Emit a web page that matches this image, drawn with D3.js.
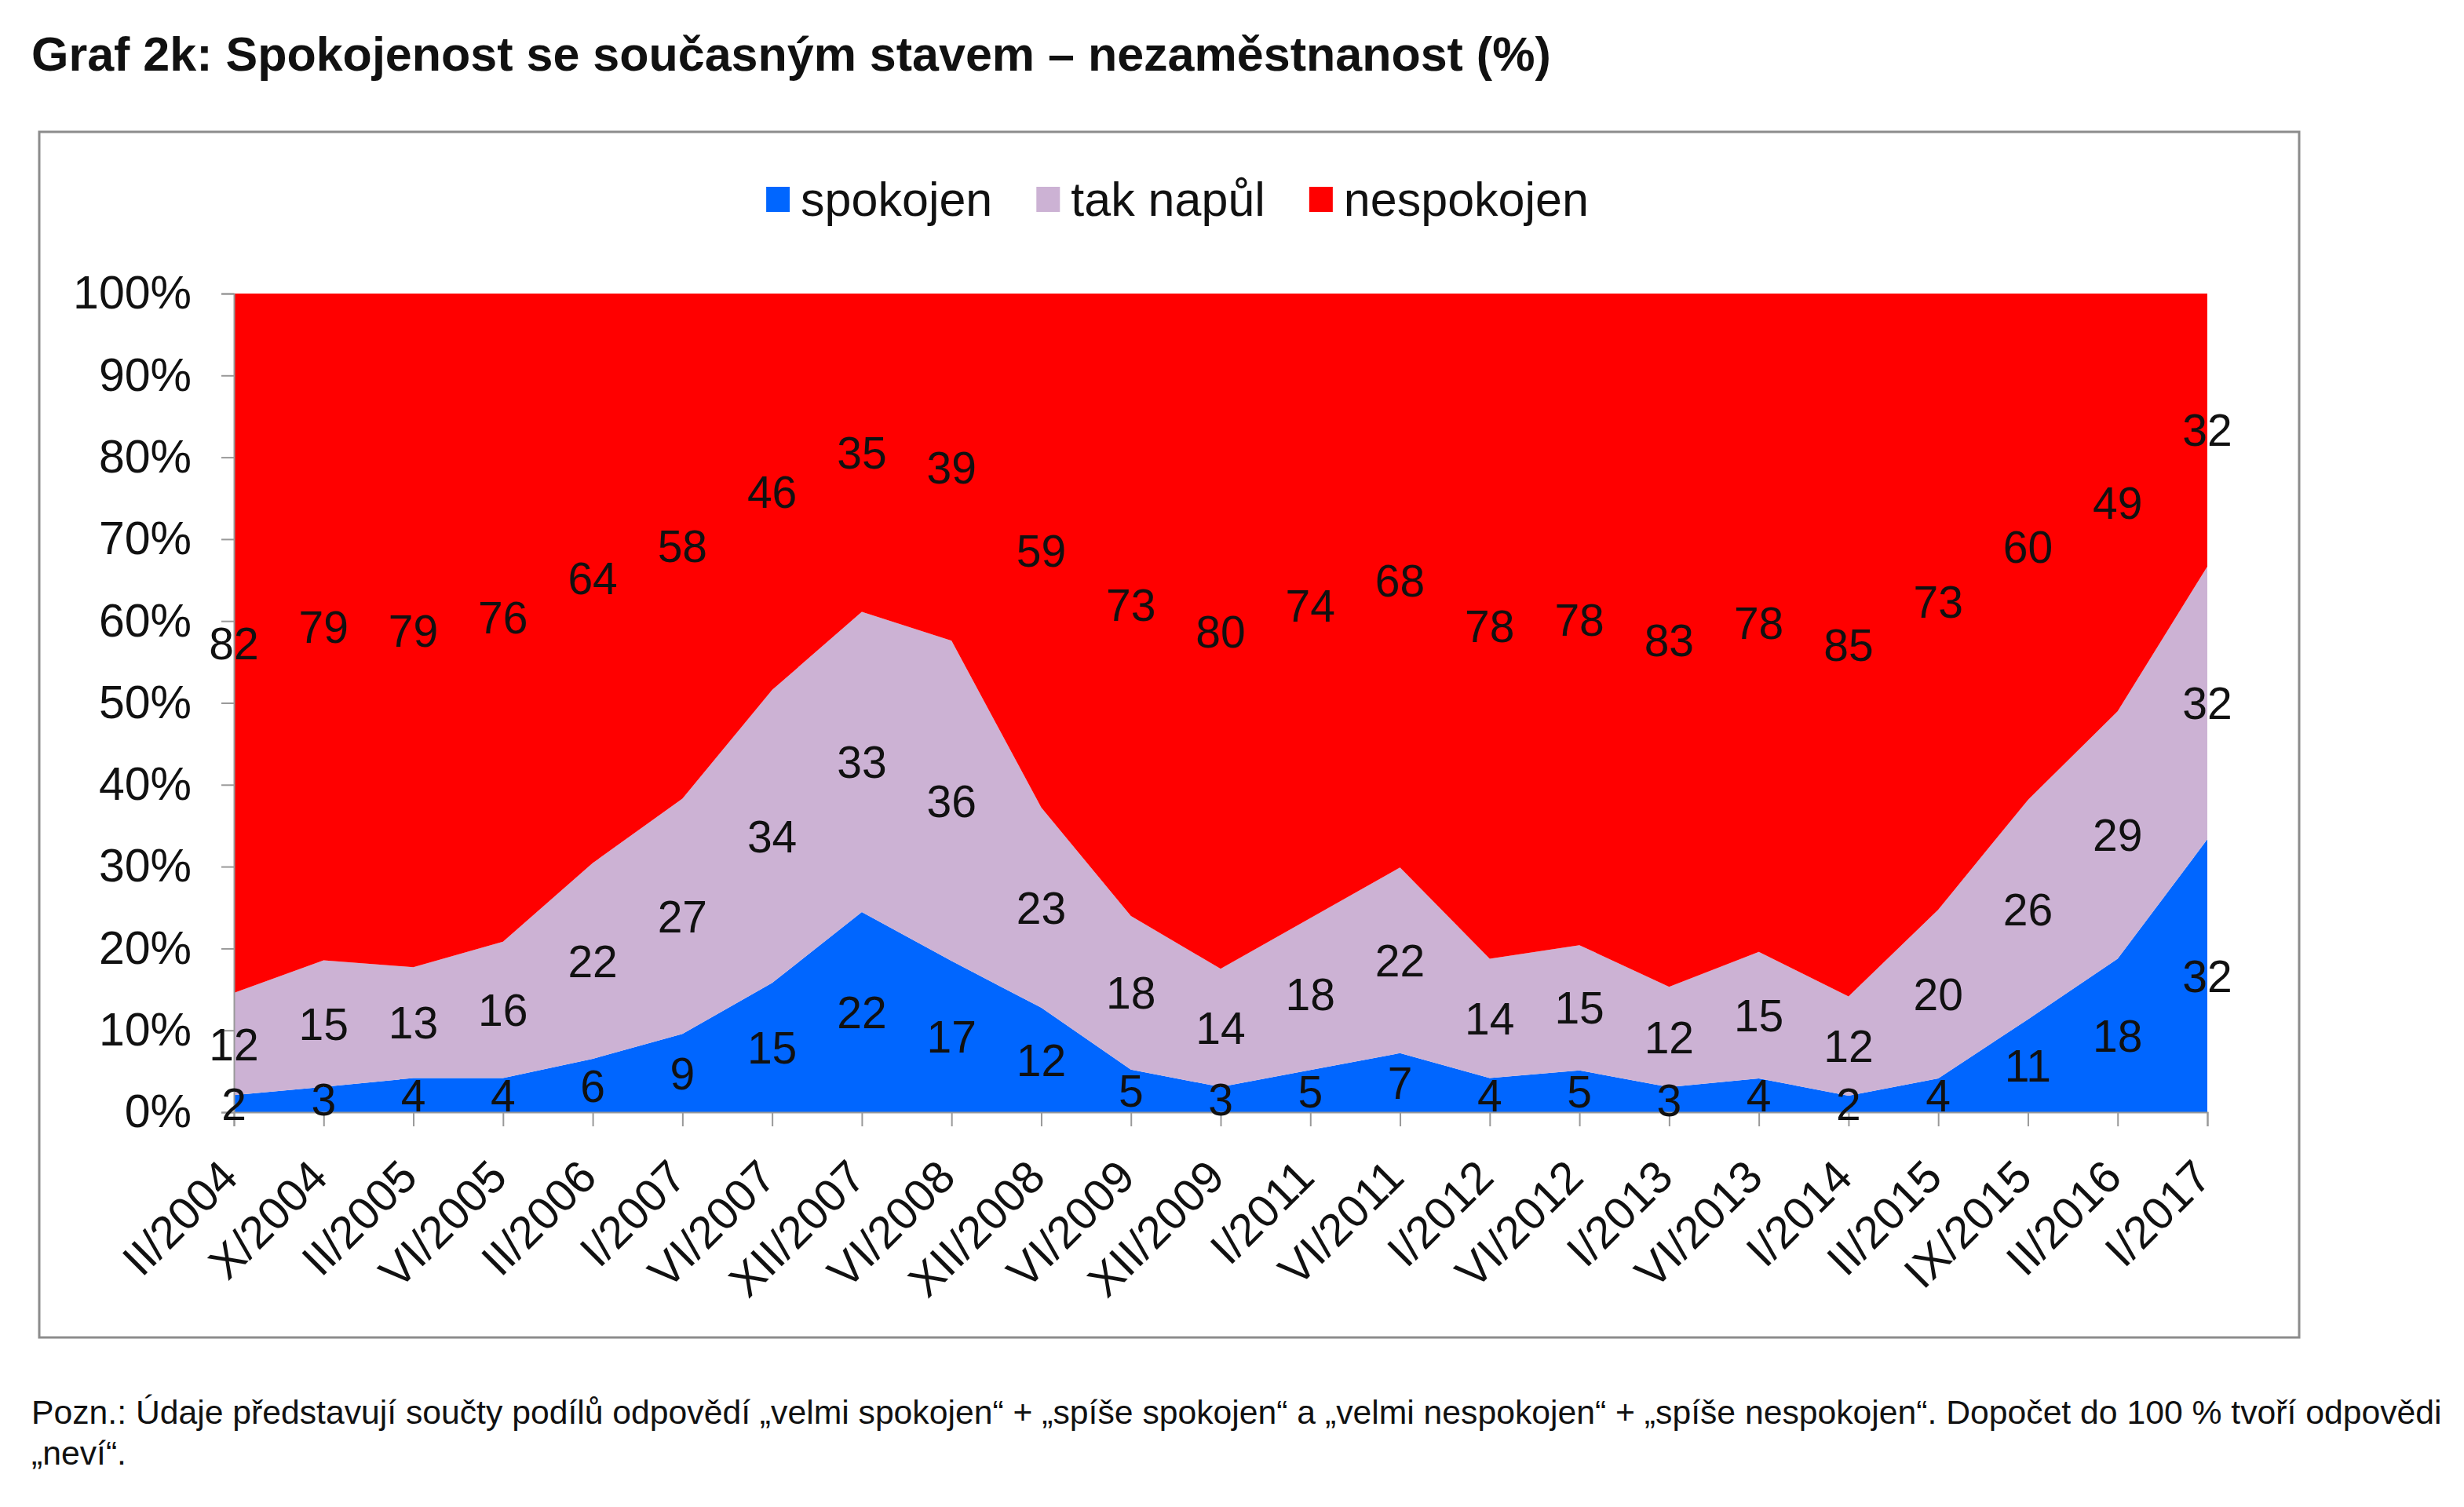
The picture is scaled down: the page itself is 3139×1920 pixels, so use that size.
<!DOCTYPE html>
<html>
<head>
<meta charset="utf-8">
<script src="https://cdn.jsdelivr.net/npm/d3@7"></script>
<style>
  body { margin: 0; background: #fff; }
  svg { display: block; font-family: "Liberation Sans", Arial, sans-serif; }
</style>
</head>
<body>
<div id="chart"></div>
<script>
// data (values in %)
const categories = ["II/2004", "X/2004", "II/2005", "VI/2005", "II/2006", "I/2007", "VI/2007", "XII/2007",
  "VI/2008", "XII/2008", "VI/2009", "XII/2009", "I/2011", "VI/2011", "I/2012", "VI/2012", "I/2013",
  "VI/2013", "I/2014", "II/2015", "IX/2015", "II/2016", "I/2017"];
const spokojen   = [2, 3, 4, 4, 6, 9, 15, 22, 17, 12, 5, 3, 5, 7, 4, 5, 3, 4, 2, 4, 11, 18, 32];
const takNapul   = [12, 15, 13, 16, 22, 27, 34, 33, 36, 23, 18, 14, 18, 22, 14, 15, 12, 15, 12, 20, 26, 29, 32];
const nespokojen = [82, 79, 79, 76, 64, 58, 46, 35, 39, 59, 73, 80, 74, 68, 78, 78, 83, 78, 85, 73, 60, 49, 32];
const seriesNames = ["spokojen", "tak napůl", "nespokojen"];
const yTicks = [0, 0.1, 0.2, 0.3, 0.4, 0.5, 0.6, 0.7, 0.8, 0.9, 1];

const colors = ["#0066ff", "#ccb2d4", "#ff0000"];

const W = 3139, H = 1920;
const plot = { left: 298, right: 2812, top: 374, bottom: 1417 };

const svg = d3.select("#chart")
  .append("svg")
  .attr("width", W)
  .attr("height", H);

svg.append("rect").attr("width", W).attr("height", H).attr("fill", "#fff");

// title
svg.append("text")
  .attr("x", 40)
  .attr("y", 90)
  .attr("font-size", 61)
  .attr("font-weight", "bold")
  .attr("fill", "#111")
  .text("Graf 2k: Spokojenost se současným stavem – nezaměstnanost (%)");

// chart frame
svg.append("rect")
  .attr("x", 50).attr("y", 168)
  .attr("width", 2879).attr("height", 1536)
  .attr("fill", "none")
  .attr("stroke", "#8c8c8c")
  .attr("stroke-width", 3);

// table for stacking
const rows = categories.map((c, i) => ({
  cat: c,
  "spokojen": spokojen[i],
  "tak napůl": takNapul[i],
  "nespokojen": nespokojen[i]
}));

// 100% stacked (rest to 100 = "neví" is left out, so normalise)
const stack = d3.stack()
  .keys(seriesNames)
  .offset(d3.stackOffsetExpand);
const layers = stack(rows);

const xScale = d3.scalePoint()
  .domain(categories)
  .range([plot.left, plot.right]);

const yScale = d3.scaleLinear()
  .domain([0, 1])
  .range([plot.bottom, plot.top]);

const area = d3.area()
  .x((d) => xScale(d.data.cat))
  .y0((d) => yScale(d[0]))
  .y1((d) => yScale(d[1]));

svg.append("g")
  .selectAll("path")
  .data(layers)
  .join("path")
  .attr("d", area)
  .attr("fill", (d, i) => colors[i]);

// Y axis
const yAxis = svg.append("g")
  .attr("transform", `translate(${plot.left},0)`)
  .call(d3.axisLeft(yScale).tickValues(yTicks).tickFormat(d3.format(".0%")).tickSize(16).tickPadding(38));
yAxis.select(".domain").attr("stroke", "#999").attr("stroke-width", 2);
yAxis.selectAll(".tick line").attr("stroke", "#999").attr("stroke-width", 2);
yAxis.selectAll(".tick text")
  .attr("font-size", 59)
  .attr("font-family", "Liberation Sans, Arial, sans-serif")
  .attr("fill", "#111");

// X axis
const xAxis = svg.append("g")
  .attr("transform", `translate(0,${plot.bottom})`)
  .call(d3.axisBottom(xScale).tickSize(18).tickFormat(""));
xAxis.select(".domain").attr("stroke", "#999").attr("stroke-width", 2);
xAxis.selectAll(".tick line").attr("stroke", "#999").attr("stroke-width", 2);

svg.append("g")
  .selectAll("text")
  .data(categories)
  .join("text")
  .attr("transform", (d) => `translate(${xScale(d) + 8},${plot.bottom + 86}) rotate(-45)`)
  .attr("text-anchor", "end")
  .attr("font-size", 58)
  .attr("fill", "#111")
  .text((d) => d);

// data labels in the middle of each band
const rawSeries = [spokojen, takNapul, nespokojen];
layers.forEach((layer, k) => {
  svg.append("g")
    .selectAll("text")
    .data(layer)
    .join("text")
    .attr("x", (d) => xScale(d.data.cat))
    .attr("y", (d) => yScale((d[0] + d[1]) / 2))
    .attr("dy", "0.36em")
    .attr("text-anchor", "middle")
    .attr("font-size", 57)
    .attr("fill", "#111")
    .text((d, i) => rawSeries[k][i]);
});

// legend
const legend = svg.append("g");
let lx = 0;
seriesNames.forEach((name, i) => {
  const g = legend.append("g");
  g.append("rect")
    .attr("y", -16)
    .attr("width", 30)
    .attr("height", 32)
    .attr("fill", colors[i]);
  const t = g.append("text")
    .attr("x", 44)
    .attr("y", 21)
    .attr("font-size", 61)
    .attr("fill", "#111")
    .text(name);
  const w = 44 + t.node().getComputedTextLength();
  g.attr("transform", `translate(${lx},0)`);
  lx += w + 56;
});
const legendWidth = lx - 56;
legend.attr("transform", `translate(${1500 - legendWidth / 2},254)`);

// footnote
const note = svg.append("text")
  .attr("x", 40)
  .attr("font-size", 42.7)
  .attr("fill", "#111");
note.append("tspan")
  .attr("x", 40).attr("y", 1814)
  .text("Pozn.: Údaje představují součty podílů odpovědí „velmi spokojen“ + „spíše spokojen“ a „velmi nespokojen“ + „spíše nespokojen“. Dopočet do 100 % tvoří odpovědi");
note.append("tspan")
  .attr("x", 40).attr("y", 1866)
  .text("„neví“.");
</script>
</body>
</html>
